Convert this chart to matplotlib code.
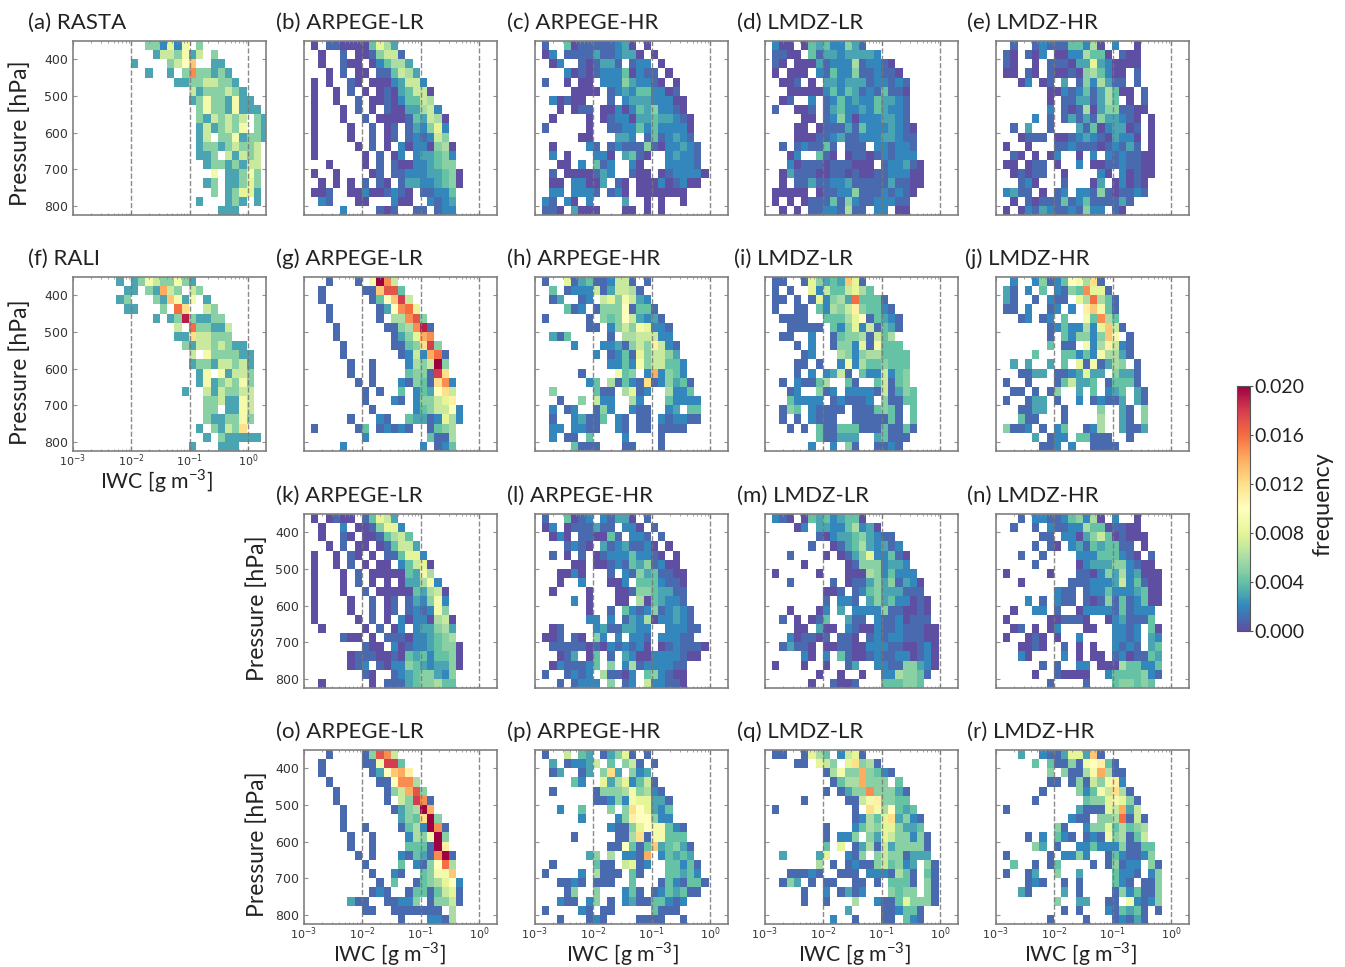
import matplotlib
matplotlib.use('Agg')
import matplotlib.pyplot as plt
import numpy as np

FONT = 'Lato'
plt.rcParams['mathtext.fontset'] = 'custom'
plt.rcParams['mathtext.rm'] = FONT

# each string is one pressure row (350 hPa at the top), each char one IWC bin
# '.' = empty, otherwise frequency in units of 0.001 (base 36, k = 0.020)
panel_a = ["..........552829.5", "...........3775937.5", "........3....57ad..33", "..........3..3.5f55353",
           "..............335577553", "................73555753", "................359553933", ".................595539333",
           ".................5375757.53", ".................3735759.53", ".................37.5593553", ".................355357557",
           ".................335.73757", "..................35535377", "...................9.33595", "..................35.33585",
           "...................5.35883", ".................3...353.3", "....................333"]
panel_b = [".0.1100004863", "..0..1.0015771", "..0..100.024663", "...0.1.00.114763", ".0.0..10.00023772",
           ".0..0.1.0.01034770", ".0..0..1.001024476", ".0...0.1.0.10033672", ".0...0..1.0000143760", ".0....0..1.01.132582",
           ".0....0..1.01.121275", ".0.....0.1.0.20220560", ".0......0.1.02.233452", "...0....0.1.100223455", ".0..0....01.1122233450",
           "..0.0.0.1.10.133223450", ".001..002001210.11224", "..21...00...200..2123", ".....2....101..11.122"]
panel_c = [".1..4011111230.0", ".02.11113112330.0", "..02..101331.122.0", "....2010122240211.0", ".1..0.00.222532210.0",
           ".....0000.1232442201", "..20100...1.233322200", "...0.011.002024352210", "..0....0.0122033433210", ".1.....0..112242422220",
           "......00...332.1412321", "..0....21.1211151022321", "..2.0...220.3410..23221", "...00.2.412..20...22221", "..1.0000132..100.0122220",
           "..00.22003.10.000201200", "..22.2221.120.0000000", ".21.20.2....3..0.0..0", ".110.3000...00.0.0"]
panel_d = [".200.043422531", ".1100.4133233332", ".10.00031222612210", ".0.000.214225112110", "..001.0.332333122121",
           "...00000242431214110", "..01..2.124232243321", ".1..001.134223243221", ".....00.125202223321", "....00.01113142223210",
           "....00011231122233211", "..1.121141.111.221221", "...02..410.0110121222", "...201110111000.122310", "..03111001101001122200",
           "..0.113112231111131100", ".00000.01122511121210", ".0.0.011141521122211", "..0.0.11221611.22.00"]
panel_e = ["..1..1211144260.2..0", ".10.102.00226440.100", ".10..0.1110338320000", ".00.10.10010564200.1", "...02.01.3.1526311.1",
           ".......002124136400.1", ".......0.11331364.0.1", ".......2.101603551100", ".....2.1.13131533210.0", "..1.3..1...314023301.0",
           "...0111.001232103220.0", ".0..0...112111012131.0", "..10.0.02..0.2.2121100", ".00.011.0..2.001121100", "..01011..0....20.20100",
           "...120...1...03.02010", ".2311.0.12.2215101121", "..0.101114124111131", ".0.021321121522.10"]
panel_f = ["......3.359755953", ".......33.53e75.75", "......35...53d939.3", ".......33...5.gc..75", "...........3.35j53355",
           "..............7.g55337", "..............33c77555", "...............537757533", "................7.9555533", "................355377573",
           ".................39.93775", ".................39357595", "...............3..7375577", "..................5573397", "..................55.3397",
           "..................5335595", ".................3.5375c", "..................3.533333", "................3...333"]
panel_g = ["...1...1.9kf7", "..1.....11dhh4", "..1......14adi7", "...1......13afg8", "...1......1.66fh5",
           "....1......1156fj1", "....1.......1358ef", ".....1......1145ci5", ".....1.......1272eg1", "......1..1....2657k5",
           "......1..1....4551ic", ".......1.1...21541cf2", "........1.1..4.243ac7", "........1...21.25578b", ".........1.....24577a2",
           "......1...21..43312862", ".1.....14.12121..1456", "........2........4116", ".....2..........2.124"]
panel_h = [".1..8134112771.1", "..4.12227137761", "..13..12.7859732", "....412.1555a1441", ".1.....1.545a73231",
           ".......11.257598221", "..314.....1.6677722", ".....2...2231575b721", "........2.1241857753", "..........22429577442",
           "......1....945.2e2542", ".......24.61421c125341", "..5.....411.6812..6224", "...1..5.722..62...42222", "..2.12..152..211..23.44",
           "..1..23114.21.11.212211", "..22.2211..21.11.1111", "..2.11.4....2....1", ".....4111...11...1"]
panel_i = [".11..185343d81", ".1.1..827447864", ".11.1.182563g4441", ".1..11.42657b54421", "..1111..44468a14321",
           "...11111.4258271431", "..11..2..145561746", "....1.2..1552819444", ".....12...6525664444", "....11.1..2926445444",
           "....1.2.2371.4227245", "..1.21146..41..47145", "...12..512.2222171354", "...42222.121112.51144", "..154.21111.1114541.4",
           "..1.1.2111..1111141.4", "...1.1.41144411141141", ".......411333..34111", "......2..2.51..1121"]
panel_j = ["..2..25124a96c1", ".31.2.4.2154f881", ".31..1.211.86g641", ".11.2..12.2.bd941", "...12.12.4..94f64",
           ".......12422628d71", ".......1.425525d9.1", ".......4.11.926b721", ".....4...4424296631", "..3.3..3.4.8191365.1",
           "...1133.1123833.5331", ".1..1...147334.14441", "..11.1.15..3.4.234.31", ".1..133.1..2.12113.31", "...1133..1....5..31.5",
           "...411...1....6..31.5", ".5112.1.24..126..3113", ".....3.122.44111..1", "......112.2..1111"]
panel_k = [".0.0100.14873", "..0..2.0015882", "..0..10.0014674", "...0.1.00.014773", ".0..0.10.0.114882",
           ".0..0.1.0.00.24780", ".0...0.1.000004396", ".0...0.1.0.0.033692", ".0...0..1.0000043670", ".0....0..1.01.132592",
           ".0....0..1.01.121295", ".0.....0.1.0.20220670", "..0.....0.1.02.233563", ".....100.0.1110223456", "........100.2012234550",
           "......0111001043424450", "......012.102254323350", "........10..123455325", "..0......0.1113455644"]
panel_l = [".1..4012.21330.1", ".02.0111311.220.1", "..020.110041.221.1", "....1210.31231120.0", "..1.0.1.0122242210.0",
           ".....00.001214351200", "...0020...1.215341100", "...0..2...002.4442110", "..0....0...0015543311", ".....2.0...00.6043221",
           ".......0..1.4212512321", ".......22.2.1326022321", "..01....23113322..22211", ".001.10.52.2.221.22211", "..11111010212120.0121110",
           "...013.04.1.32002222100", "..0211124.5.261222211", ".1..1212.61102.452100", "...1.1222.5.12.722110"]
panel_m = [".210.043423440", "....02.332246230", ".......10233453211", "......1..0134632312", "...1....0.0135822410",
           ".....0.....015552332", ".0.....0...0006524222", "...1.....1.01135351320", "........001.1245333111", "........1.221.353422010",
           "...0...02.3.22225110010", "..1.0.014..311.21120111", "....00.300.2100211211100", "...201101.110.1212211100", "..13110.0011002221100120",
           ".....20.2.41001211220120", ".0...0..0..13..221155320", ".......0..0..0..2265541", "......0..1001...444554"]
panel_n = ["...1.2211245260.2..0", "..1..1.2112264401100", "......11.220357401000", ".....1.10.231434411.0", "...1..1....222444210.1",
           ".....1.....02333552100", ".0.....0...110253623000", "...0......1112223724100", "........211.12242223400", "....2.1.211.10151412400",
           "..0..22.1..02222141222", ".0.....001110..0231114", "..01.0.02...00..2212.40", ".0..010.0..2....2212.32", "...0010..1.0.0..2121.34",
           "...20....2.0.00.1201143", "......1.1..22.000644224", ".....0..10000..24444521", ".......1....1...455454"]
panel_o = ["...1....15hf7", "..1.....119ii4", "..1......13adeb", "...1......11aff6", "....1......157eh5",
           "....1......1.75if1", ".....1......1356ke", ".....1.......354ck5", ".....1..1....1462kf1", "......1..1....2659k5",
           "......1..1....4441kb", ".......1.1...21431fk1", "........1....4.215ag6", ".........1..21..4599d", "..........1.4..14568a2",
           ".........121..14414781", "......311..11225.15571", "........11..1111111.6", ".............1...2216"]
panel_p = [".1..7.43.13581.1", "..3.12237.4.571.1", "..13..13.5c3.523", ".....42..83682471", "..1.....1555695621",
           "........11252988331", "...2..4...5.5ca8324", "......2....25baa522", "..........21158a99421", ".....1.....116c199444",
           "..........11a414d34531", ".......35.6.221e.24343", "..1.....411.7812..44241", ".1....2.6111.41...44342", "...1121.111..4...1421441",
           "....15..5...241.1243411", "...211.25.1.231144212", ".1....21.11.....4111", "...1...121....1111..1"]
panel_q = [".11..1864.2781", "....11.875.8c561", "........16955e5421", ".........1466e555.4", "........1.1355f55531",
           ".....1.....1179b5544", ".1..........1.c96a434", "............12648c3521", "........1...2465885334", "........1.225.538755251",
           "........4.8.13617355551", "..3....38..215.57551333", ".......6.1.1211574523.51", "...11121..111.2221641.41", "..153.1.11..11.1.4441.51",
           ".....1..2.1312...5455.51", ".....1..1...6..211485551", "...........3....112441", ".........2..1...11.421"]
panel_r = ["...3..2113883d1", ".....4.411519ab41", ".......5.51169e611", ".......11.151759b2", "......1....52497c61",
           ".....1......45589851", ".1.........311187e37", "..........211.556g171", "........51..255846456", "....1.2.421.121956147",
           ".....53.1..22422251144", ".1.....1.2252..1421125", "..4..1.14....1.15122.51", ".1..13..5..3....4221.25", "....121..1.1....421.115",
           "...31....3.1....1524115", "........5..33..11.92125", ".........1.1...214341.1", ".......1....1...12131"]

titles = ['(a) RASTA', '(b) ARPEGE-LR', '(c) ARPEGE-HR', '(d) LMDZ-LR', '(e) LMDZ-HR',
          '(f) RALI', '(g) ARPEGE-LR', '(h) ARPEGE-HR', '(i) LMDZ-LR', '(j) LMDZ-HR',
          '(k) ARPEGE-LR', '(l) ARPEGE-HR', '(m) LMDZ-LR', '(n) LMDZ-HR',
          '(o) ARPEGE-LR', '(p) ARPEGE-HR', '(q) LMDZ-LR', '(r) LMDZ-HR']
panels = [panel_a, panel_b, panel_c, panel_d, panel_e, panel_f, panel_g, panel_h, panel_i,
          panel_j, panel_k, panel_l, panel_m, panel_n, panel_o, panel_p, panel_q, panel_r]
pressure_ticks = [400, 500, 600, 700, 800]

W, H = 1345.0, 967.0
cols_px = [73, 304, 535, 765, 996]
rows_px = [41, 277, 514, 750]
title_x = [28, 276, 507, 737, 967, 28, 276, 507, 734, 965, 276, 507, 737, 967, 276, 507, 737, 967]
# (column, row) for every panel
where = [(0, 0), (1, 0), (2, 0), (3, 0), (4, 0), (0, 1), (1, 1), (2, 1), (3, 1), (4, 1),
         (1, 2), (2, 2), (3, 2), (4, 2), (1, 3), (2, 3), (3, 3), (4, 3)]


def decode(rows):
    grid = np.full((19, 27), np.nan)
    for r, row in enumerate(rows):
        for c, ch in enumerate(row):
            if ch != '.':
                grid[r, c] = int(ch, 36) * 0.001
    return np.ma.masked_invalid(grid)


x_edges = 10 ** (-3 + 0.1238 * np.arange(28))
y_edges = 350 + 25 * np.arange(20)

fig = plt.figure(figsize=(13.45, 9.67), dpi=100)

for i in range(18):
    c, r = where[i]
    ax = fig.add_axes([cols_px[c] / W, 1 - (rows_px[r] + 174) / H, 193 / W, 174 / H])
    mesh = ax.pcolormesh(x_edges, y_edges, decode(panels[i]), cmap='Spectral_r', vmin=0, vmax=0.02)
    ax.set_xscale('log')
    ax.set_xlim(1e-3, 2)
    ax.set_ylim(825, 350)
    for v in [1e-2, 1e-1, 1]:
        ax.axvline(v, color='#777777', ls='--', lw=1.0, alpha=0.85)
    for s in ax.spines.values():
        s.set_color('#808080')
        s.set_linewidth(1.2)
    ax.set_yticks(pressure_ticks)
    ax.tick_params(which='both', direction='in', top=True, right=True, color='#909090',
                   labelsize=9, labelcolor='#333333')
    ax.tick_params(which='major', length=3)
    ax.tick_params(which='minor', length=1.5)
    ax.tick_params(axis='x', labelsize=8, pad=1)
    ax.set_xticks([1e-3, 1e-2, 1e-1, 1])
    if i not in (5, 14, 15, 16, 17):
        ax.set_xticklabels([])
    if i not in (0, 5, 10, 14):
        ax.set_yticklabels([])
    fig.text(title_x[i] / W, 1 - (rows_px[r] - 18) / H, titles[i], fontsize=16, family=FONT,
             ha='left', va='center', color='#222222')

for x, y in [(20, 133), (20, 372), (257, 608), (257, 844)]:
    fig.text(x / W, 1 - y / H, 'Pressure [hPa]', fontsize=16.5, family=FONT, rotation=90,
             ha='center', va='center', color='#222222')
for x, y in [(156, 481), (389, 954), (622, 954), (854, 954), (1080, 954)]:
    fig.text(x / W, 1 - y / H, 'IWC [g m$^{-3}$]', fontsize=15.3, family=FONT,
             ha='center', va='center', color='#222222', math_fontfamily='custom')

cax = fig.add_axes([1237 / W, 1 - 631 / H, 12.5 / W, 245 / H])
cbar = fig.colorbar(mesh, cax=cax, ticks=np.arange(0, 0.0201, 0.004))
cbar.ax.set_yticklabels(['%.3f' % t for t in np.arange(0, 0.0201, 0.004)], family=FONT, fontsize=14, color='#222222')
cbar.ax.tick_params(length=2.5, color='#555555', pad=1)
cbar.outline.set_edgecolor('#555555')
fig.text(1323 / W, 1 - 504 / H, 'frequency', fontsize=16.8, family=FONT, rotation=90,
         ha='center', va='center', color='#222222')

plt.savefig('out.png', dpi=100)
